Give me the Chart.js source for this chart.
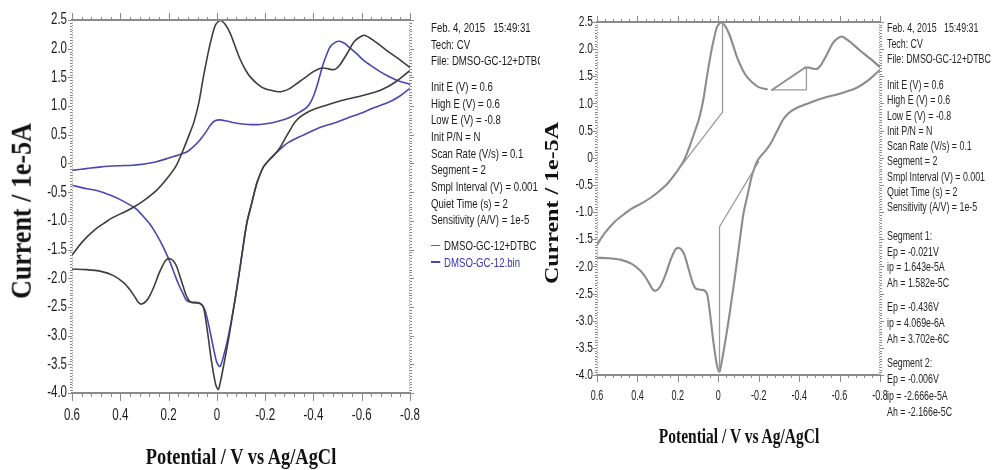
<!DOCTYPE html>
<html>
<head>
<meta charset="utf-8">
<script src="https://cdn.jsdelivr.net/npm/chart.js@4.4.1/dist/chart.umd.min.js"></script>
<style>
  body { margin: 0; background: #fff; }
  #wrap { position: relative; width: 992px; height: 470px; overflow: hidden; }
  canvas { position: absolute; left: 0; top: 0; }
  .panel { position: absolute; font-family: "Liberation Sans", Arial, sans-serif; white-space: nowrap; transform-origin: 0 0; }
  .panel div { position: absolute; left: 0; }
  .title { position: absolute; font-family: "Liberation Serif", "Times New Roman", serif; font-weight: bold; white-space: nowrap; line-height: 1; color: #111; }
  .dash { display: inline-block; width: 12px; height: 1.6px; vertical-align: middle; margin-right: 5px; position: relative; top: -1px; }
</style>
</head>
<body>
<div id="wrap">
  <canvas id="left" width="992" height="470"></canvas>
  <canvas id="right" width="992" height="470"></canvas>

  <div style="position:absolute;left:431px;top:0;width:109px;height:280px;overflow:hidden">
    <div class="panel" style="left:0;top:0;font-size:12.6px;color:#1a1a1a;transform:scaleX(0.765)">
      <div style="top:20px;line-height:16.7px">Feb. 4, 2015&nbsp;&nbsp;&nbsp;15:49:31<br>Tech: CV<br>File: DMSO-GC-12+DTBC</div>
      <div style="top:79px;line-height:16.67px">Init E (V) = 0.6<br>High E (V) = 0.6<br>Low E (V) = -0.8<br>Init P/N = N<br>Scan Rate (V/s) = 0.1<br>Segment = 2<br>Smpl Interval (V) = 0.001<br>Quiet Time (s) = 2<br>Sensitivity (A/V) = 1e-5</div>
      <div style="top:238px;line-height:16.6px"><span class="dash" style="background:#666"></span>DMSO-GC-12+DTBC<br><span class="dash" style="background:#4646b4"></span><span style="color:#3535a8">DMSO-GC-12.bin</span></div>
    </div>
  </div>

  <div class="panel" style="left:887px;top:0;font-size:13px;color:#262626;transform:scaleX(0.68)">
    <div style="top:20px;line-height:15.5px">Feb. 4, 2015&nbsp;&nbsp;&nbsp;15:49:31<br>Tech: CV<br>File: DMSO-GC-12+DTBC</div>
    <div style="top:77px;line-height:15.25px">Init E (V) = 0.6<br>High E (V) = 0.6<br>Low E (V) = -0.8<br>Init P/N = N<br>Scan Rate (V/s) = 0.1<br>Segment = 2<br>Smpl Interval (V) = 0.001<br>Quiet Time (s) = 2<br>Sensitivity (A/V) = 1e-5</div>
    <div style="top:228px;line-height:15.7px">Segment 1:<br>Ep = -0.021V<br>ip = 1.643e-5A<br>Ah = 1.582e-5C</div>
    <div style="top:299px;line-height:16px">Ep = -0.436V<br>ip = 4.069e-6A<br>Ah = 3.702e-6C</div>
    <div style="top:355px;line-height:16.3px">Segment 2:<br>Ep = -0.006V<br>ip = -2.666e-5A<br>Ah = -2.166e-5C</div>
  </div>

  <span class="title" style="left:22px;top:211px;font-size:26px;transform:translate(-50%,-50%) rotate(-90deg) scale(1,1.15)">Current / 1e-5A</span>
  <span class="title" style="left:551px;top:203px;font-size:24px;transform:translate(-50%,-50%) rotate(-90deg) scale(1,0.82)">Current / 1e-5A</span>
  <span class="title" style="left:241px;top:456px;font-size:20px;transform:translate(-50%,-50%) scale(0.92,1.14)">Potential / V vs Ag/AgCl</span>
  <span class="title" style="left:739px;top:436px;font-size:20px;transform:translate(-50%,-50%) scale(0.775,1.02)">Potential / V vs Ag/AgCl</span>
</div>

<script>
// axis ticks
const xTicks = [0.6, 0.4, 0.2, 0, -0.2, -0.4, -0.6, -0.8];
const xTickLabels = ['0.6', '0.4', '0.2', '0', '-0.2', '-0.4', '-0.6', '-0.8'];
const yTicks = [2.5, 2.0, 1.5, 1.0, 0.5, 0, -0.5, -1.0, -1.5, -2.0, -2.5, -3.0, -3.5, -4.0];
const yTickLabels = ['2.5', '2.0', '1.5', '1.0', '0.5', '0', '-0.5', '-1.0', '-1.5', '-2.0', '-2.5', '-3.0', '-3.5', '-4.0'];

// DMSO-GC-12+DTBC, scan 0.6 -> -0.8 (potential V, current 1e-5 A)
const blackFwdV = [0.60, 0.56, 0.51, 0.46, 0.43, 0.38, 0.34, 0.30, 0.25, 0.21, 0.17, 0.14, 0.11, 0.095, 0.075, 0.056, 0.035, 0.021, 0.005, -0.015, -0.035, -0.055, -0.075, -0.096, -0.12, -0.14, -0.17, -0.20, -0.24, -0.265, -0.30, -0.34, -0.37, -0.40, -0.43, -0.45, -0.47, -0.49, -0.51, -0.54, -0.57, -0.60, -0.615, -0.65, -0.70, -0.75, -0.80];
const blackFwdI = [-1.60, -1.38, -1.17, -1.02, -0.94, -0.84, -0.75, -0.64, -0.47, -0.28, -0.05, 0.23, 0.55, 0.72, 1.05, 1.50, 1.95, 2.20, 2.42, 2.49, 2.42, 2.27, 2.05, 1.82, 1.62, 1.50, 1.38, 1.30, 1.26, 1.25, 1.30, 1.42, 1.51, 1.60, 1.66, 1.66, 1.64, 1.64, 1.72, 1.92, 2.13, 2.22, 2.23, 2.14, 1.98, 1.83, 1.67];
// DMSO-GC-12+DTBC, scan -0.8 -> 0.6
const blackRetV = [-0.80, -0.74, -0.68, -0.60, -0.52, -0.45, -0.40, -0.37, -0.345, -0.32, -0.303, -0.282, -0.262, -0.234, -0.21, -0.193, -0.178, -0.165, -0.144, -0.124, -0.10, -0.082, -0.065, -0.048, -0.03, -0.015, -0.006, 0.005, 0.021, 0.035, 0.045, 0.056, 0.07, 0.09, 0.111, 0.125, 0.139, 0.152, 0.166, 0.18, 0.194, 0.21, 0.221, 0.24, 0.256, 0.275, 0.291, 0.311, 0.325, 0.339, 0.36, 0.385, 0.43, 0.48, 0.54, 0.60];
const blackRetI = [1.62, 1.42, 1.28, 1.18, 1.10, 1.01, 0.94, 0.88, 0.81, 0.70, 0.58, 0.43, 0.28, 0.13, 0.03, -0.06, -0.20, -0.35, -0.70, -1.04, -1.70, -2.20, -2.64, -3.07, -3.48, -3.80, -3.94, -3.85, -3.48, -3.05, -2.75, -2.50, -2.44, -2.43, -2.41, -2.32, -2.15, -1.98, -1.80, -1.70, -1.66, -1.68, -1.75, -1.92, -2.10, -2.28, -2.39, -2.45, -2.42, -2.33, -2.20, -2.08, -1.95, -1.88, -1.85, -1.84];

// DMSO-GC-12.bin
const blueFwdV = [0.60, 0.54, 0.48, 0.41, 0.35, 0.30, 0.25, 0.21, 0.18, 0.15, 0.125, 0.10, 0.07, 0.045, 0.028, 0.01, -0.013, -0.04, -0.082, -0.13, -0.179, -0.23, -0.276, -0.31, -0.345, -0.37, -0.386, -0.40, -0.414, -0.428, -0.441, -0.455, -0.469, -0.49, -0.51, -0.53, -0.552, -0.58, -0.607, -0.64, -0.676, -0.71, -0.745, -0.80];
const blueFwdI = [-0.12, -0.09, -0.06, -0.04, -0.03, -0.01, 0.03, 0.08, 0.12, 0.16, 0.20, 0.28, 0.41, 0.55, 0.66, 0.74, 0.76, 0.74, 0.70, 0.68, 0.68, 0.71, 0.76, 0.82, 0.90, 0.97, 1.05, 1.17, 1.34, 1.55, 1.74, 1.90, 2.03, 2.11, 2.13, 2.09, 2.01, 1.91, 1.80, 1.70, 1.60, 1.52, 1.45, 1.38];
const blueRetV = [-0.80, -0.76, -0.718, -0.65, -0.593, -0.54, -0.483, -0.43, -0.386, -0.34, -0.29, -0.26, -0.234, -0.21, -0.193, -0.178, -0.165, -0.144, -0.124, -0.10, -0.082, -0.065, -0.048, -0.03, -0.013, 0.0, 0.014, 0.035, 0.05, 0.065, 0.085, 0.105, 0.125, 0.14, 0.159, 0.175, 0.194, 0.215, 0.235, 0.255, 0.277, 0.305, 0.332, 0.353, 0.40, 0.443, 0.49, 0.539, 0.60];
const blueRetI = [1.31, 1.18, 1.08, 0.97, 0.87, 0.79, 0.70, 0.63, 0.55, 0.46, 0.35, 0.24, 0.14, 0.03, -0.06, -0.20, -0.35, -0.70, -1.04, -1.70, -2.20, -2.62, -3.00, -3.32, -3.54, -3.47, -3.22, -2.79, -2.55, -2.45, -2.42, -2.42, -2.39, -2.27, -2.10, -1.93, -1.72, -1.52, -1.35, -1.20, -1.06, -0.92, -0.80, -0.74, -0.63, -0.55, -0.48, -0.44, -0.38];

// peak baselines in the right plot
const base1V = [0.21, -0.021, -0.021];
const base1I = [-0.28, 0.84, 2.48];
const base2V = [-0.265, -0.436, -0.436];
const base2I = [1.25, 1.25, 1.66];
const base3V = [-0.20, -0.006, -0.006];
const base3I = [-0.07, -1.27, -3.94];

// where the right trace is broken / drawn straight
const GAP_AFTER = -0.24;
const CHORD_FROM = -0.265;
const CHORD_TO = -0.43;

const pts = (vs, is) => vs.map((v, k) => ({ x: v, y: is[k] }));

Chart.defaults.font.family = '"Liberation Sans", Arial, sans-serif';

// box, minor ticks and condensed tick labels, like the instrument plot
const frame = {
  id: 'frame',
  afterDatasetsDraw(chart, args, o) {
    const { ctx, chartArea: a, scales: { x, y } } = chart;
    const seg = (x1, y1, x2, y2) => { ctx.beginPath(); ctx.moveTo(x1, y1); ctx.lineTo(x2, y2); ctx.stroke(); };
    ctx.save();
    ctx.strokeStyle = o.color;
    ctx.lineWidth = 1;
    const nx = Math.round(1.4 / 0.04);
    for (let k = 0; k <= nx; k++) {
      const v = 0.6 - k * 0.04;
      const px = Math.round(x.getPixelForValue(v)) + 0.5;
      const major = xTicks.some(t => Math.abs(t - v) < 1e-6);
      seg(px, a.top, px, a.top - (major ? o.topMajor : o.topMinor));
      seg(px, a.bottom, px, a.bottom + (major ? o.botMajor : o.botMinor));
    }
    const ny = Math.round(6.5 / 0.05);
    for (let k = 0; k <= ny; k++) {
      const v = 2.5 - k * 0.05;
      const py = Math.round(y.getPixelForValue(v)) + 0.5;
      const major = yTicks.some(t => Math.abs(t - v) < 1e-6);
      const len = major ? o.sideMajor : o.sideMinor;
      seg(a.left, py, a.left - len, py);
      seg(a.right, py, a.right + len, py);
    }
    ctx.setLineDash([1, 1.5]);
    seg(a.left + 0.5, a.top, a.left + 0.5, a.bottom);
    seg(a.right - 0.5, a.top, a.right - 0.5, a.bottom);
    ctx.setLineDash([]);
    ctx.lineWidth = o.hWidth;
    seg(a.left - 1, a.top, a.right + 1, a.top);
    seg(a.left - 1, a.bottom, a.right + 1, a.bottom);

    ctx.fillStyle = '#1a1a1a';
    ctx.font = o.font;
    ctx.textBaseline = 'middle';
    ctx.textAlign = 'center';
    xTicks.forEach((v, i) => {
      ctx.save();
      ctx.translate(x.getPixelForValue(v), o.xLabelY);
      ctx.scale(o.sxX, 1);
      ctx.fillText(xTickLabels[i], 0, 0);
      ctx.restore();
    });
    ctx.textAlign = 'right';
    yTicks.forEach((v, i) => {
      ctx.save();
      ctx.translate(a.left - o.yGap, y.getPixelForValue(v));
      ctx.scale(o.sxY, 1);
      ctx.fillText(yTickLabels[i], 0, 0);
      ctx.restore();
    });
    ctx.restore();
  }
};

function scales(o) {
  return {
    x: {
      type: 'linear', reverse: true, min: -0.8, max: 0.6,
      grid: { display: false, drawTicks: false }, border: { display: false },
      afterBuildTicks: s => { s.ticks = xTicks.map(v => ({ value: v })); },
      afterFit: s => { s.height = o.xh; },
      ticks: { display: false }
    },
    y: {
      type: 'linear', min: -4, max: 2.5,
      grid: { display: false, drawTicks: false }, border: { display: false },
      afterBuildTicks: s => { s.ticks = yTicks.map(v => ({ value: v })); },
      afterFit: s => { s.width = o.yw; },
      ticks: { display: false }
    }
  };
}

function line(data, color, width, tension) {
  return { data, showLine: true, borderColor: color, borderWidth: width, tension,
    pointRadius: 0, borderJoinStyle: 'round', borderCapStyle: 'round', spanGaps: false };
}

new Chart(document.getElementById('left'), {
  type: 'scatter',
  data: {
    datasets: [
      line(pts(blackFwdV, blackFwdI), '#3d3d3d', 1.6, 0.3),
      line(pts(blackRetV, blackRetI), '#3d3d3d', 1.6, 0.3),
      line(pts(blueFwdV, blueFwdI), '#4848b2', 1.6, 0.3),
      line(pts(blueRetV, blueRetI), '#4848b2', 1.6, 0.3)
    ]
  },
  options: {
    responsive: false, animation: false, events: [],
    layout: { padding: { left: 0, right: 582, top: 20, bottom: 0 } },
    plugins: { legend: { display: false }, tooltip: { enabled: false },
      frame: { color: '#8a8a8a', topMajor: 7, topMinor: 3, botMajor: 8, botMinor: 4, sideMajor: 4, sideMinor: 2, hWidth: 2,
        font: '16px "Liberation Sans", Arial, sans-serif', sxX: 0.72, sxY: 0.72, xLabelY: 416, yGap: 5 } },
    scales: scales({ xh: 77, yw: 72 })
  },
  plugins: [frame]
});

const fwd = pts(blackFwdV, blackFwdI);
const rightFwd = [
  ...fwd.filter(p => p.x >= GAP_AFTER),
  { x: (GAP_AFTER + CHORD_FROM) / 2, y: null },
  ...fwd.filter(p => p.x <= CHORD_TO)
];
const chord = fwd.filter(p => p.x === CHORD_FROM || p.x === CHORD_TO);

new Chart(document.getElementById('right'), {
  type: 'scatter',
  data: {
    datasets: [
      line(pts(base1V, base1I), '#9a9a9a', 1.3, 0),
      line(pts(base2V, base2I), '#9a9a9a', 1.3, 0),
      line(pts(base3V, base3I), '#9a9a9a', 1.3, 0),
      line(chord, '#8c8c8c', 1.8, 0),
      line(rightFwd, '#8c8c8c', 2.1, 0.3),
      line(pts(blackRetV, blackRetI), '#8c8c8c', 2.1, 0.3)
    ]
  },
  options: {
    responsive: false, animation: false, events: [],
    layout: { padding: { left: 530, right: 112, top: 22, bottom: 0 } },
    plugins: { legend: { display: false }, tooltip: { enabled: false },
      frame: { color: '#8a8a8a', topMajor: 6, topMinor: 3, botMajor: 7, botMinor: 3, sideMajor: 4, sideMinor: 2, hWidth: 2,
        font: '15px "Liberation Sans", Arial, sans-serif', sxX: 0.6, sxY: 0.68, xLabelY: 396, yGap: 4 } },
    scales: scales({ xh: 95, yw: 67 })
  },
  plugins: [frame]
});
</script>
</body>
</html>
